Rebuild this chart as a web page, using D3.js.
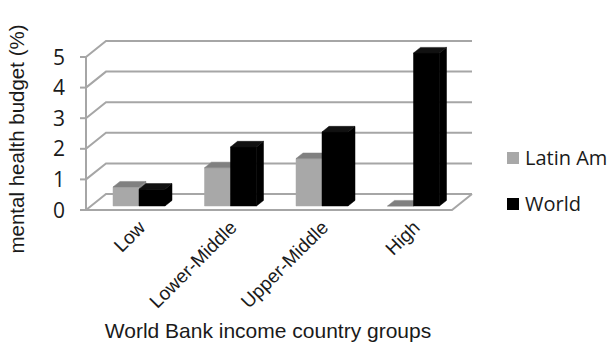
<!DOCTYPE html>
<html><head><meta charset="utf-8">
<script src="https://cdn.jsdelivr.net/npm/d3@7"></script>
<style>body{margin:0;background:#fff}svg{display:block}</style>
</head><body>
<script>
const categories = ["Low", "Lower-Middle", "Upper-Middle", "High"];
const seriesNames = ["Latin Am", "World"];
const latinAm = [0.62, 1.25, 1.55, 0.0];
const world = [0.55, 1.93, 2.42, 5.0];
const yTicks = [0, 1, 2, 3, 4, 5];

const W = 612, H = 348;
const svg = d3.select("body").append("svg").attr("width", W).attr("height", H);

const depthX = 20, depthY = -16;
const x = d3.scaleBand().domain(categories).range([86, 452]);
const y = d3.scaleLinear().domain([0, 5]).range([210, 57]);
const P = (px, v, z) => [px + z * depthX, y(v) + z * depthY];

const gridColor = "#a6a6a6";
const textColor = "#1a1a1a";
const g = svg.append("g");

yTicks.forEach(v => {
  const a = P(86, v, 0), b = P(86, v, 1), c = P(452, v, 1);
  g.append("polyline").attr("points", [a, b, c].map(p => p.join(",")).join(" "))
    .attr("fill", "none").attr("stroke", gridColor).attr("stroke-width", 2);
});
{
  const a = P(86, 0, 0), b = P(452, 0, 0), c = P(452, 0, 1);
  g.append("polyline").attr("points", [a, b, c].map(p => p.join(",")).join(" "))
    .attr("fill", "none").attr("stroke", gridColor).attr("stroke-width", 2);
}
g.append("line").attr("x1", 86).attr("x2", 86).attr("y1", y(0)).attr("y2", y(5))
  .attr("stroke", gridColor).attr("stroke-width", 2);
yTicks.forEach(v => {
  g.append("line").attr("x1", 80).attr("x2", 86).attr("y1", y(v)).attr("y2", y(v))
    .attr("stroke", gridColor).attr("stroke-width", 2);
  g.append("text").attr("x", 65).attr("y", y(v)).attr("dy", "0.36em")
    .attr("text-anchor", "end").attr("font-family", "Open Sans").attr("font-size", 21)
    .attr("fill", textColor).text(v);
});

const z0 = 0.25, z1 = 0.6, barW = 26, offs = 22;
const colors = [
  { front: "#a8a8a8", top: "#808080", side: "#8e8e8e" },
  { front: "#000000", top: "#111111", side: "#000000" }
];
const seriesData = [latinAm, world];
categories.forEach((c, i) => {
  seriesData.forEach((vals, j) => {
    const v = vals[i];
    const x0 = x(c) + offs + j * barW, x1 = x0 + barW;
    const col = colors[j];
    const poly = pts => pts.map(p => p.join(",")).join(" ");
    const fbl = P(x0, 0, z0), fbr = P(x1, 0, z0), ftl = P(x0, v, z0), ftr = P(x1, v, z0);
    const bbr = P(x1, 0, z1), btl = P(x0, v, z1), btr = P(x1, v, z1);
    g.append("polygon").attr("points", poly([fbr, bbr, btr, ftr])).attr("fill", col.side)
      .attr("stroke", col.side).attr("stroke-width", 0.5);
    g.append("polygon").attr("points", poly([fbl, fbr, ftr, ftl])).attr("fill", col.front)
      .attr("stroke", col.front).attr("stroke-width", 0.5);
    g.append("polygon").attr("points", poly([ftl, ftr, btr, btl])).attr("fill", col.top)
      .attr("stroke", col.top).attr("stroke-width", 0.5);
  });
});

categories.forEach(c => {
  const cx = x(c) + x.bandwidth() / 2 + 10;
  svg.append("text").attr("transform", `translate(${cx},224) rotate(-45)`)
    .attr("text-anchor", "end").attr("dy", "0.35em")
    .attr("font-family", "Liberation Sans").attr("font-size", 19).attr("fill", textColor)
    .text(c);
});

svg.append("text").attr("transform", "translate(24,139) rotate(-90)")
  .attr("text-anchor", "middle").attr("font-family", "Liberation Sans").attr("font-size", 20.5)
  .attr("fill", textColor).text("mental health budget (%)");
svg.append("text").attr("x", 268).attr("y", 338)
  .attr("text-anchor", "middle").attr("font-family", "Liberation Sans").attr("font-size", 21)
  .attr("fill", textColor).text("World Bank income country groups");

const legY = [158, 204];
seriesNames.forEach((s, j) => {
  svg.append("rect").attr("x", 507).attr("y", legY[j] - 6).attr("width", 12).attr("height", 12)
    .attr("fill", colors[j].front);
  svg.append("text").attr("x", 525).attr("y", legY[j]).attr("dy", "0.36em")
    .attr("font-family", "Open Sans").attr("font-size", 20).attr("fill", textColor).text(s);
});
</script>
</body></html>
